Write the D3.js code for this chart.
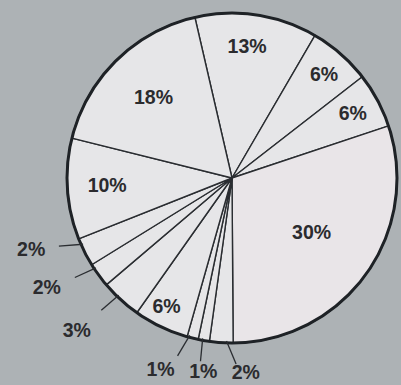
<!DOCTYPE html>
<html><head><meta charset="utf-8">
<script src="https://cdn.jsdelivr.net/npm/d3@7"></script>
<style>html,body{margin:0;padding:0;background:#adb2b5;}svg{display:block;}</style>
</head><body>
<script>
// Slices in clockwise order, starting from the 13% slice near the top
const labels = ["13%","6%","6%","30%","2%","1%","1%","6%","3%","2%","2%","10%","18%"];
// Angular share of each slice as drawn
const values = [12.0, 6.1, 5.4, 30.0, 2.3, 1.1, 1.1, 5.4, 4.0, 2.4, 2.8, 9.9, 17.5];
const outside = [false,false,false,false,true,true,true,false,true,true,true,false,false];

// layout (not data): label radius and angular shift (deg) per slice
const labelR =     [133,139,137, 96,194,195,204,144,217,215,213,125,113];
const labelShift = [-2.1,0.3,0,-1.6,-7.8,-1.4,6.7,1.5,3.2,5.5,7.2,0.8,0.5];
const leadIn =  [0,0,0,0,-1.8,0.5,1.2,0,1.6,2.6,2.7,0,0];
const leadOut = [0,0,0,0,-5.0,-0.1,3.2,0,2.2,3.7,5.2,0,0];

const W = 401, H = 385, cx = 232, cy = 178, R = 165;
const svg = d3.select("body").append("svg").attr("width", W).attr("height", H);
svg.append("rect").attr("width", W).attr("height", H).attr("fill", "#adb2b5");

const start = -13 * Math.PI / 180;
const pie = d3.pie().sort(null).value(d => d).startAngle(start).endAngle(start + 2 * Math.PI);
const arcs = pie(values);
const arc = d3.arc().innerRadius(0).outerRadius(R);
const g = svg.append("g").attr("transform", `translate(${cx},${cy})`);

g.selectAll("path.slice").data(arcs).join("path")
  .attr("class", "slice")
  .attr("d", arc)
  .attr("fill", (d, i) => i === 3 ? "#e9e5e8" : "#e6e6e8")
  .attr("stroke", "#2a2d31").attr("stroke-width", 1.4).attr("stroke-linejoin", "round");

g.append("circle").attr("r", R).attr("fill", "none").attr("stroke", "#1e2226").attr("stroke-width", 3);

const pt = (angDeg, r) => {
  const a = angDeg * Math.PI / 180;
  return [r * Math.sin(a), -r * Math.cos(a)];
};
const mid = d => ((d.startAngle + d.endAngle) / 2) * 180 / Math.PI;

// leader lines
g.selectAll("line.lead").data(arcs.filter((d, i) => outside[i])).join("line")
  .attr("class", "lead")
  .each(function (d) {
    const i = d.index;
    const p1 = pt(mid(d) + leadIn[i], R - 2);
    const p2 = pt(mid(d) + leadOut[i], R + 21);
    d3.select(this).attr("x1", p1[0]).attr("y1", p1[1]).attr("x2", p2[0]).attr("y2", p2[1]);
  })
  .attr("stroke", "#2a2d31").attr("stroke-width", 1.3);

g.selectAll("text.lab").data(arcs).join("text")
  .attr("class", "lab")
  .attr("transform", d => {
    const p = pt(mid(d) + labelShift[d.index], labelR[d.index]);
    return `translate(${p[0]},${p[1]})`;
  })
  .attr("text-anchor", "middle")
  .attr("dominant-baseline", "central")
  .attr("font-family", "'Liberation Sans', Arial, sans-serif")
  .attr("font-weight", "bold")
  .attr("font-size", 19.5)
  .attr("fill", "#2b2b2e")
  .text((d, i) => labels[i]);
</script>
</body></html>
